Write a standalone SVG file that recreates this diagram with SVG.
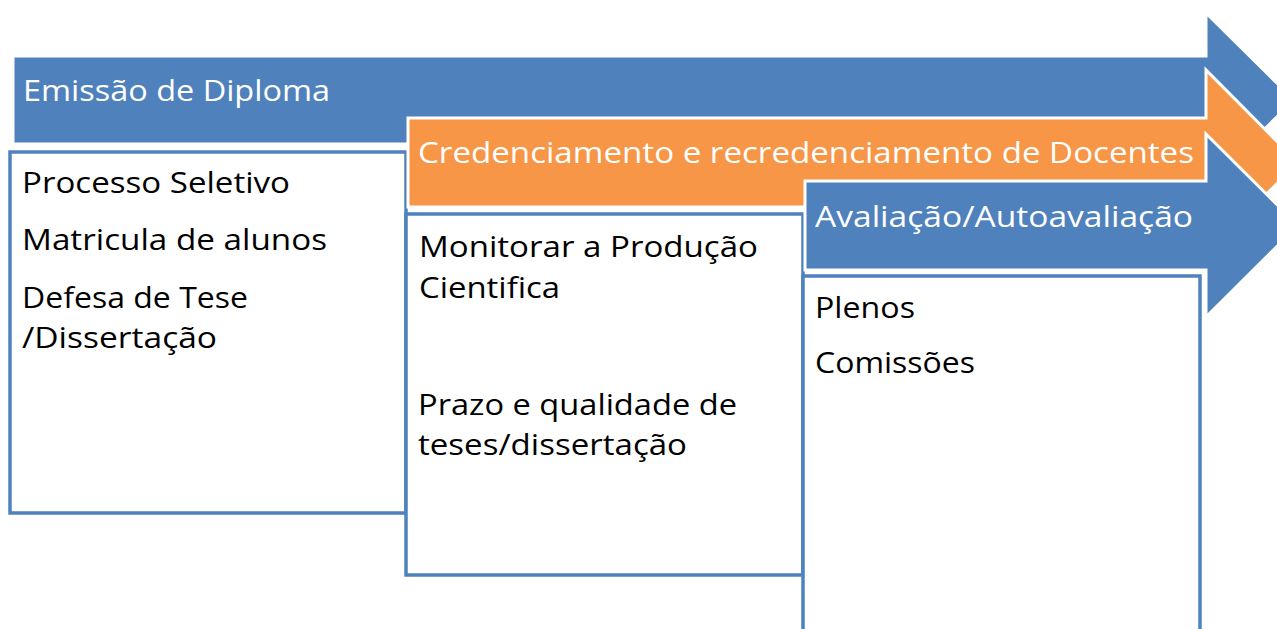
<svg xmlns="http://www.w3.org/2000/svg" width="1277" height="629" viewBox="0 0 1277 629">
<style>
.blue{fill:#4F81BD;stroke:#FFFFFF;stroke-width:3;stroke-linejoin:miter}
.orange{fill:#F79646;stroke:#FFFFFF;stroke-width:3;stroke-linejoin:miter}
.box{fill:#FFFFFF;stroke:#4F81BD;stroke-width:3.5}
.t{font-family:"Open Sans","Liberation Sans",sans-serif;font-size:29px}
.w{fill:#FFFFFF}
.k{fill:#000000}
</style>
<rect width="1277" height="629" fill="#FFFFFF"/>
<g id="arrow-emissao">
<polygon class="blue" points="13,56 1206,56 1206,13 1294,100 1206,187 1206,144 13,144"/>
<text class="t w" x="23" y="101" textLength="307" lengthAdjust="spacingAndGlyphs">Emissão de Diploma</text>
</g>
<g id="box-1">
<rect class="box" x="10" y="152" width="396" height="361"/>
<text class="t k" x="22" y="193" textLength="268" lengthAdjust="spacingAndGlyphs">Processo Seletivo</text>
<text class="t k" x="22" y="250" textLength="305" lengthAdjust="spacingAndGlyphs">Matricula de alunos</text>
<text class="t k" x="22" y="308" textLength="226" lengthAdjust="spacingAndGlyphs">Defesa de Tese</text>
<text class="t k" x="22" y="348" textLength="195" lengthAdjust="spacingAndGlyphs">/Dissertação</text>
</g>
<g id="arrow-credenciamento">
<polygon class="orange" points="408,118 1206,118 1206,70 1298,162.5 1206,255 1206,207 408,207"/>
<text class="t w" x="418" y="163" textLength="776" lengthAdjust="spacingAndGlyphs">Credenciamento e recredenciamento de Docentes</text>
</g>
<g id="box-2">
<rect class="box" x="406" y="214" width="397" height="361"/>
<text class="t k" x="419" y="257" textLength="339" lengthAdjust="spacingAndGlyphs">Monitorar a Produção</text>
<text class="t k" x="419" y="298" textLength="141" lengthAdjust="spacingAndGlyphs">Cientifica</text>
<text class="t k" x="418" y="415" textLength="319" lengthAdjust="spacingAndGlyphs">Prazo e qualidade de</text>
<text class="t k" x="418" y="455" textLength="269" lengthAdjust="spacingAndGlyphs">teses/dissertação</text>
</g>
<g id="arrow-avaliacao">
<polygon class="blue" points="805,181 1206,181 1206,134 1298,225.5 1206,317 1206,270 805,270"/>
<text class="t w" x="815" y="227" textLength="378" lengthAdjust="spacingAndGlyphs">Avaliação/Autoavaliação</text>
</g>
<g id="box-3">
<rect class="box" x="803" y="276" width="397" height="365"/>
<text class="t k" x="815" y="318" textLength="100" lengthAdjust="spacingAndGlyphs">Plenos</text>
<text class="t k" x="815" y="373" textLength="160" lengthAdjust="spacingAndGlyphs">Comissões</text>
</g>
<g id="connectors"></g>
</svg>
